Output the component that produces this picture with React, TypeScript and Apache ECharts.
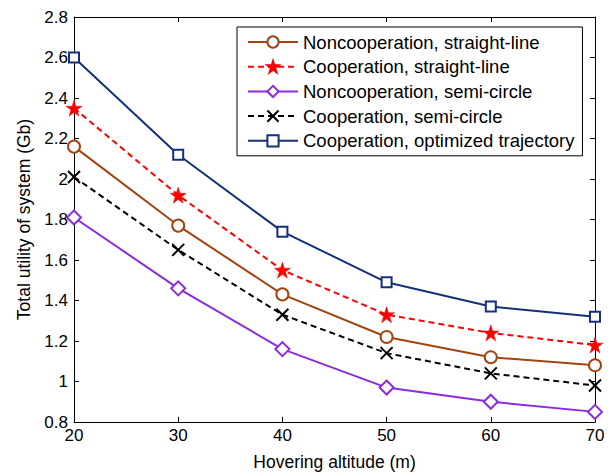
import React, { useEffect, useRef } from "react";
import * as echarts from "echarts";

const altitudes = [20, 30, 40, 50, 60, 70];
const nonCoopStraight = [2.16, 1.77, 1.43, 1.22, 1.12, 1.08];
const coopStraight = [2.35, 1.92, 1.55, 1.33, 1.24, 1.18];
const nonCoopSemi = [1.81, 1.46, 1.16, 0.97, 0.9, 0.85];
const coopSemi = [2.01, 1.65, 1.33, 1.14, 1.04, 0.98];
const coopOptimized = [2.6, 2.12, 1.74, 1.49, 1.37, 1.32];

const seriesNames = [
  "Noncooperation, straight-line",
  "Cooperation, straight-line",
  "Noncooperation, semi-circle",
  "Cooperation, semi-circle",
  "Cooperation, optimized trajectory",
];

const FONT = "'Liberation Sans', Arial, sans-serif";
const STAR =
  "path://M50,0 L61.2,34.5 L97.6,34.5 L68.2,55.9 L79.4,90.5 L50,69.1 L20.6,90.5 L31.8,55.9 L2.4,34.5 L38.8,34.5 Z";
const CROSS = "path://M0,0 L10,10 M10,0 L0,10";

const pairs = (ys: number[]) => altitudes.map((x, i) => [x, ys[i]]);

export default function App() {
  const ref = useRef<HTMLDivElement>(null);
  useEffect(() => {
    if (!ref.current) return;
    const chart = echarts.init(ref.current, null, { renderer: "svg" });
    const axisCommon = {
      axisLine: { show: true, lineStyle: { color: "#000", width: 1 } },
      axisTick: { show: true, inside: true, length: 5, lineStyle: { color: "#000" } },
      splitLine: { show: false },
    };
    const mk = (
      name: string,
      data: number[],
      color: string,
      symbol: string,
      symbolSize: number,
      dashed: boolean,
      itemStyle: any
    ) => ({
      name,
      type: "line",
      data: pairs(data),
      symbol,
      symbolSize,
      clip: false,
      lineStyle: { color, width: 2, type: dashed ? [6, 4] : "solid" },
      itemStyle,
      emphasis: { disabled: true },
      z: 3,
    });
    chart.setOption({
      animation: false,
      backgroundColor: "#fff",
      textStyle: { fontFamily: FONT },
      grid: { left: 74, right: 21, top: 17, bottom: 50, containLabel: false },
      legend: {
        orient: "vertical",
        left: 237,
        top: 27,
        padding: [5, 8, 5, 10],
        itemWidth: 50,
        itemHeight: 14,
        itemGap: 4.7,
        borderColor: "#000",
        borderWidth: 1,
        backgroundColor: "#fff",
        textStyle: { fontSize: 18.5, fontFamily: FONT, color: "#000", lineHeight: 20 },
        data: seriesNames,
      },
      xAxis: [
        {
          type: "value",
          min: 20,
          max: 70,
          interval: 10,
          name: "Hovering altitude (m)",
          nameLocation: "middle",
          nameGap: 31,
          nameTextStyle: { fontSize: 17.5, color: "#000", fontFamily: FONT },
          axisLabel: { fontSize: 17, color: "#000", margin: 5, fontFamily: FONT },
          ...axisCommon,
        },
        {
          type: "value",
          position: "top",
          min: 20,
          max: 70,
          interval: 10,
          axisLabel: { show: false },
          ...axisCommon,
        },
      ],
      yAxis: [
        {
          type: "value",
          min: 0.8,
          max: 2.8,
          interval: 0.2,
          name: "Total utility of system (Gb)",
          nameLocation: "middle",
          nameGap: 41,
          nameTextStyle: { fontSize: 17.5, color: "#000", fontFamily: FONT },
          axisLabel: {
            fontSize: 17,
            color: "#000",
            margin: 6,
            fontFamily: FONT,
            formatter: (v: number) => String(+v.toFixed(1)),
          },
          ...axisCommon,
        },
        {
          type: "value",
          position: "right",
          min: 0.8,
          max: 2.8,
          interval: 0.2,
          axisLabel: { show: false },
          ...axisCommon,
        },
      ],
      series: [
        mk(seriesNames[0], nonCoopStraight, "#A3430F", "emptyCircle", 12, false, {
          color: "#A3430F",
          borderColor: "#A3430F",
          borderWidth: 2,
        }),
        mk(seriesNames[1], coopStraight, "#FF0000", STAR, 16, true, {
          color: "#FF0000",
          borderColor: "#FF0000",
          borderWidth: 0.5,
        }),
        mk(seriesNames[2], nonCoopSemi, "#8A2BE2", "emptyDiamond", 14, false, {
          color: "#8A2BE2",
          borderColor: "#8A2BE2",
          borderWidth: 2,
        }),
        mk(seriesNames[3], coopSemi, "#000000", CROSS, 12, true, {
          color: "#000000",
          borderColor: "#000000",
          borderWidth: 2,
        }),
        mk(seriesNames[4], coopOptimized, "#14307A", "emptyRect", 10, false, {
          color: "#14307A",
          borderColor: "#14307A",
          borderWidth: 2,
        }),
      ],
    });
    return () => chart.dispose();
  }, []);
  return (
    <div
      ref={ref}
      style={{ position: "fixed", left: 0, top: 0, width: 616, height: 476 }}
    />
  );
}
